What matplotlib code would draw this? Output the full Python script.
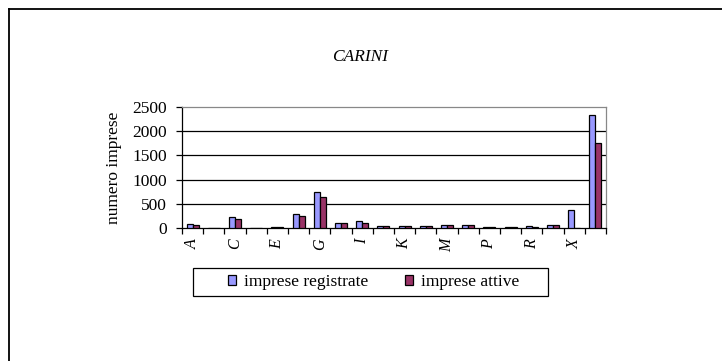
import matplotlib
matplotlib.use("Agg")
import matplotlib.pyplot as plt
import numpy as np
from matplotlib.patches import Patch, Rectangle
from matplotlib.lines import Line2D

categories = ["A", "B", "C", "D", "E", "F", "G", "H", "I", "J",
              "K", "L", "M", "N", "P", "Q", "R", "S", "X", "Totale"]
registrate = [70, 0, 221, 0, 20, 285, 735, 105, 130, 40,
              40, 40, 50, 55, 15, 15, 25, 55, 368, 2335]
attive = [62, 0, 187, 0, 15, 250, 645, 97, 105, 38,
          38, 35, 48, 50, 12, 12, 20, 50, 0, 1755]
shown_labels = ["A", "C", "E", "G", "I", "K", "M", "P", "R", "X"]
yticks = [0, 500, 1000, 1500, 2000, 2500]

plt.rcParams['font.family'] = ['Liberation Serif', 'DejaVu Serif']

fig = plt.figure(figsize=(7.22, 3.61), dpi=100)
W, H = 722, 361
ax = fig.add_axes([182 / W, 1 - 227.7 / H, (606 - 182) / W, (227.7 - 107.3) / H])

x = np.arange(len(categories))
bw = 0.28
c1, c2 = "#9999FF", "#993366"
ax.bar(x - bw / 2, registrate, bw, color=c1, edgecolor="black", linewidth=0.9, zorder=3)
ax.bar(x + bw / 2, attive, bw, color=c2, edgecolor="black", linewidth=0.9, zorder=3)

ax.set_xlim(-0.5, len(categories) - 0.5)
ax.set_ylim(0, 2500)
ax.set_yticks(yticks)
ax.set_yticklabels([str(v) for v in yticks], fontsize=12.5)
for v in yticks[1:-1]:
    ax.axhline(v, color="black", linewidth=0.9, zorder=1)

ax.set_xticks([i for i, c in enumerate(categories) if c in shown_labels])
ax.set_xticklabels([c for c in categories if c in shown_labels],
                   rotation=90, fontsize=11.5, style="italic")
ax.set_xticks(np.arange(-0.5, len(categories), 1.0), minor=True)
ax.tick_params(axis="x", which="major", length=0, pad=8)
ax.tick_params(axis="x", which="minor", length=4, width=0.9, direction="out")
ax.tick_params(axis="y", length=4, width=0.9, direction="out", pad=7)

for s in ["top", "right"]:
    ax.spines[s].set_color("#888888")
    ax.spines[s].set_linewidth(0.9)
for s in ["left", "bottom"]:
    ax.spines[s].set_color("black")
    ax.spines[s].set_linewidth(0.9)

ax.set_ylabel("numero imprese", fontsize=12.5)
ax.yaxis.set_label_coords(-0.142, 0.5)

fig.text(360 / W, 1 - 57 / H, "CARINI", ha="center", va="center",
         fontsize=12.5, style="italic")

handles = [Patch(facecolor=c1, edgecolor="black", linewidth=0.9),
           Patch(facecolor=c2, edgecolor="black", linewidth=0.9)]
leg = fig.legend(handles, ["imprese registrate", "imprese attive"],
                 loc="center", bbox_to_anchor=(373.5 / W, 1 - 282 / H),
                 ncol=2, fontsize=12.5, frameon=False,
                 handlelength=0.5, handleheight=0.5,
                 handletextpad=0.45, columnspacing=2.1, borderpad=0.2,
                 borderaxespad=0)
fig.add_artist(Rectangle((193 / W, 1 - 296 / H), 355 / W, 28 / H,
                         transform=fig.transFigure, fill=False,
                         edgecolor="black", linewidth=0.9))

# outer chart frame (top and left edges visible)
fig.add_artist(Line2D([9 / W, 9 / W], [0, 1 - 8.5 / H], transform=fig.transFigure,
                      color="black", linewidth=1.3))
fig.add_artist(Line2D([9 / W, 1], [1 - 8.5 / H, 1 - 8.5 / H], transform=fig.transFigure,
                      color="black", linewidth=1.3))

fig.savefig("out.png", dpi=100)
